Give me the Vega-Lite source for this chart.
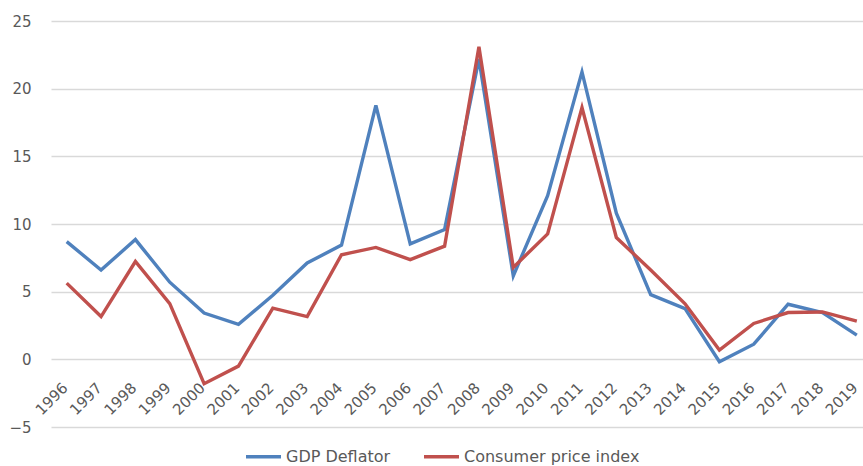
{
  "$schema": "https://vega.github.io/schema/vega-lite/v6.json",
  "width": 812,
  "height": 406,
  "autosize": {"type": "none"},
  "padding": {"left": 51, "top": 21, "right": 0, "bottom": 39},
  "config": {
    "view": {"stroke": null},
    "font": "DejaVu Sans"
  },
  "data": {
    "values": [
      {"year": 1996, "series": "GDP Deflator", "value": 8.7},
      {"year": 1997, "series": "GDP Deflator", "value": 6.6},
      {"year": 1998, "series": "GDP Deflator", "value": 8.85},
      {"year": 1999, "series": "GDP Deflator", "value": 5.7},
      {"year": 2000, "series": "GDP Deflator", "value": 3.42},
      {"year": 2001, "series": "GDP Deflator", "value": 2.59},
      {"year": 2002, "series": "GDP Deflator", "value": 4.73},
      {"year": 2003, "series": "GDP Deflator", "value": 7.12},
      {"year": 2004, "series": "GDP Deflator", "value": 8.44},
      {"year": 2005, "series": "GDP Deflator", "value": 18.76},
      {"year": 2006, "series": "GDP Deflator", "value": 8.53},
      {"year": 2007, "series": "GDP Deflator", "value": 9.59},
      {"year": 2008, "series": "GDP Deflator", "value": 22.2},
      {"year": 2009, "series": "GDP Deflator", "value": 6.17},
      {"year": 2010, "series": "GDP Deflator", "value": 12.1},
      {"year": 2011, "series": "GDP Deflator", "value": 21.24},
      {"year": 2012, "series": "GDP Deflator", "value": 10.8},
      {"year": 2013, "series": "GDP Deflator", "value": 4.78},
      {"year": 2014, "series": "GDP Deflator", "value": 3.75},
      {"year": 2015, "series": "GDP Deflator", "value": -0.18},
      {"year": 2016, "series": "GDP Deflator", "value": 1.12},
      {"year": 2017, "series": "GDP Deflator", "value": 4.07},
      {"year": 2018, "series": "GDP Deflator", "value": 3.46},
      {"year": 2019, "series": "GDP Deflator", "value": 1.79},
      {"year": 1996, "series": "Consumer price index", "value": 5.63},
      {"year": 1997, "series": "Consumer price index", "value": 3.16},
      {"year": 1998, "series": "Consumer price index", "value": 7.23},
      {"year": 1999, "series": "Consumer price index", "value": 4.12},
      {"year": 2000, "series": "Consumer price index", "value": -1.8},
      {"year": 2001, "series": "Consumer price index", "value": -0.5},
      {"year": 2002, "series": "Consumer price index", "value": 3.78},
      {"year": 2003, "series": "Consumer price index", "value": 3.16},
      {"year": 2004, "series": "Consumer price index", "value": 7.73},
      {"year": 2005, "series": "Consumer price index", "value": 8.27},
      {"year": 2006, "series": "Consumer price index", "value": 7.37},
      {"year": 2007, "series": "Consumer price index", "value": 8.36},
      {"year": 2008, "series": "Consumer price index", "value": 23.1},
      {"year": 2009, "series": "Consumer price index", "value": 6.79},
      {"year": 2010, "series": "Consumer price index", "value": 9.27},
      {"year": 2011, "series": "Consumer price index", "value": 18.6},
      {"year": 2012, "series": "Consumer price index", "value": 9.0},
      {"year": 2013, "series": "Consumer price index", "value": 6.6},
      {"year": 2014, "series": "Consumer price index", "value": 4.1},
      {"year": 2015, "series": "Consumer price index", "value": 0.68},
      {"year": 2016, "series": "Consumer price index", "value": 2.65},
      {"year": 2017, "series": "Consumer price index", "value": 3.46},
      {"year": 2018, "series": "Consumer price index", "value": 3.5},
      {"year": 2019, "series": "Consumer price index", "value": 2.82}
    ]
  },
  "mark": {"type": "line", "strokeWidth": 3.4, "strokeJoin": "miter", "strokeCap": "butt"},
  "encoding": {
    "x": {
      "field": "year",
      "type": "quantitative",
      "scale": {"domain": [1995.543, 2019.18], "nice": false, "zero": false},
      "axis": {
        "title": null,
        "values": [1996,1997,1998,1999,2000,2001,2002,2003,2004,2005,2006,2007,2008,2009,2010,2011,2012,2013,2014,2015,2016,2017,2018,2019],
        "format": "d",
        "grid": false,
        "domain": false,
        "ticks": false,
        "offset": -68,
        "labelAngle": -45,
        "labelAlign": "right",
        "labelBaseline": "top",
        "labelPadding": 21,
        "labelOffset": -7,
        "labelFontSize": 15,
        "labelColor": "#595959",
        "labelOverlap": false,
        "labelFlush": false,
        "labelBound": false
      }
    },
    "y": {
      "field": "value",
      "type": "quantitative",
      "scale": {"domain": [-5, 25], "nice": false},
      "axis": {
        "title": null,
        "values": [-5, 0, 5, 10, 15, 20, 25],
        "grid": true,
        "gridColor": "#d9d9d9",
        "gridWidth": 1.3,
        "domain": false,
        "ticks": false,
        "labelPadding": 20,
        "labelFontSize": 15,
        "labelColor": "#595959"
      }
    },
    "color": {
      "field": "series",
      "type": "nominal",
      "sort": ["GDP Deflator", "Consumer price index"],
      "scale": {"domain": ["GDP Deflator", "Consumer price index"], "range": ["#4F81BD", "#C0504D"]},
      "legend": {
        "title": null,
        "orient": "none",
        "direction": "horizontal",
        "legendX": 193,
        "legendY": 416,
        "padding": 0,
        "symbolType": "stroke",
        "symbolSize": 1225,
        "symbolStrokeWidth": 3.4,
        "labelFontSize": 16,
        "labelColor": "#595959",
        "labelOffset": 3,
        "labelLimit": 0,
        "columnPadding": 26
      }
    }
  }
}
